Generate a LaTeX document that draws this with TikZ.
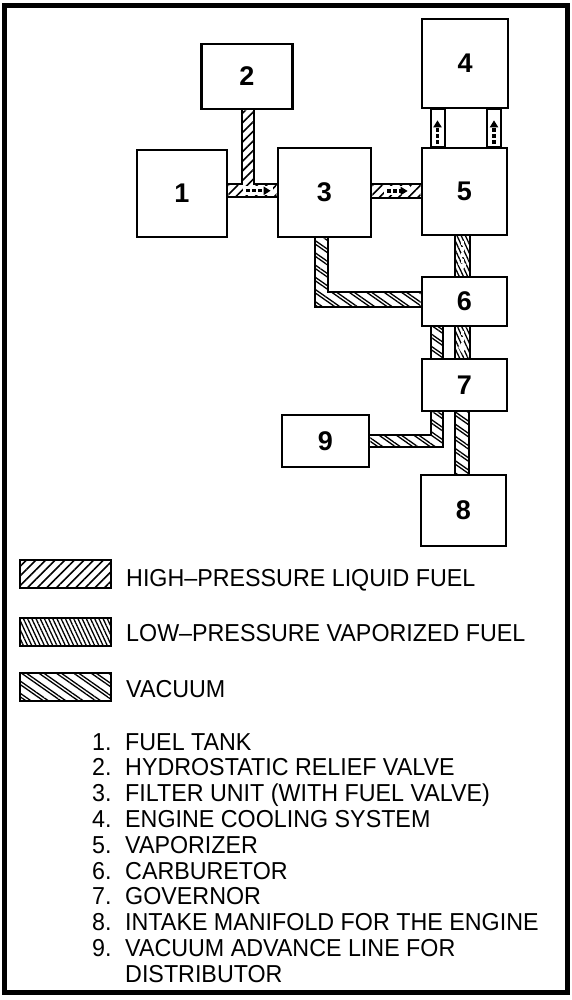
\documentclass[tikz,border=0pt]{standalone}
\usepackage{fontspec}
\newfontfamily\figfont{Liberation Sans}
\usetikzlibrary{calc}
\usetikzlibrary{patterns.meta}
\usetikzlibrary{arrows.meta}

\tikzset{
  unit/.style={draw, line width=2.6pt, fill=white, inner sep=0pt,
    font=\figfont\bfseries\fontsize{27}{27}\selectfont},
  pipeline/.style={line width=2pt},
  hpfuel/.style={pattern={Lines[angle=45,distance=6.8pt,line width=1.6pt]}},
  lpfuel/.style={pattern={Lines[angle=-65,distance=3.8pt,line width=1.3pt]}},
  vacline/.style={preaction={pattern={Lines[angle=-35,distance=10pt,line width=1.3pt]}},
    pattern={Lines[angle=-35,distance=10pt,yshift=3.5pt,line width=1.3pt]}},
  flow/.style={line width=3.5pt, dash pattern=on 3.5pt off 2.5pt, -{Triangle[width=8pt,length=7pt]}},
  halo/.style={draw=white, line width=9pt},
  swatch/.style={draw, line width=2pt, minimum width=91pt, minimum height=28pt, inner sep=0pt},
  keytext/.style={anchor=base west, inner sep=0pt, font=\figfont\fontsize{24.5}{26}\selectfont},
}
\newcommand{\keyline}[1]{\scalebox{0.95}[1]{#1}}

\begin{document}
\begin{tikzpicture}[x=1pt,y=-1pt]
  \useasboundingbox (0,0) rectangle (572,1000);
  \draw[line width=5pt] (4.7,5.5) rectangle (567.6,992.5);

  %% units
  \node[unit, minimum width=90pt, minimum height=87pt] (b1) at (182,193.5) {1};
  \node[unit, minimum width=90.5pt, minimum height=65pt] (b2) at (247,76.5) {2};
  \node[unit, minimum width=93pt, minimum height=89pt] (b3) at (324.5,192.5) {3};
  \node[unit, minimum width=86pt, minimum height=89pt] (b4) at (465,63.5) {4};
  \node[unit, minimum width=85pt, minimum height=87pt] (b5) at (464.5,191.5) {5};
  \node[unit, minimum width=85pt, minimum height=49pt] (b6) at (464.5,301.5) {6};
  \node[unit, minimum width=85pt, minimum height=52pt] (b7) at (464.5,385) {7};
  \node[unit, minimum width=85pt, minimum height=71pt] (b8) at (463.5,510.5) {8};
  \node[unit, minimum width=87pt, minimum height=52pt] (b9) at (325.5,441) {9};

  %% high-pressure liquid: 1 -> 3 with 2 on top, 3 -> 5
  \fill[hpfuel] ($(b1.east)+(0,-9.5)$) -| ($(b2.south)+(-5,0)$) -| ($(b2.south)+(6.5,0)$)
    |- ($(b3.west)+(0,-8.5)$) |- ($(b1.east)+(0,4)$) -- cycle;
  \draw[halo] ($(b1.east)+(15,-2.75)$) -- ($(b3.west)+(-4,-1.75)$);
  \draw[flow] ($(b1.east)+(18,-2.75)$) -- ($(b3.west)+(-6,-1.75)$);
  \draw[pipeline] ($(b1.east)+(0,-9.5)$) -| ($(b2.south)+(-5,0)$)
    ($(b2.south)+(6.5,0)$) |- ($(b3.west)+(0,-8.5)$)
    ($(b1.east)+(0,4)$) -- ($(b3.west)+(0,5)$);

  \fill[hpfuel] ($(b3.east)+(0,-8.5)$) rectangle ($(b5.west)+(0,6.5)$);
  \draw[halo] ($(b3.east)+(12,-1.5)$) -- ($(b5.west)+(-11,-0.5)$);
  \draw[flow] ($(b3.east)+(15,-1.5)$) -- ($(b5.west)+(-13,-0.5)$);
  \draw[pipeline] ($(b3.east)+(0,-8.5)$) -- ($(b5.west)+(0,-7.5)$)
    ($(b3.east)+(0,5.5)$) -- ($(b5.west)+(0,6.5)$);

  %% 5 <-> 4 cooling
  \draw[pipeline] ($(b5.north)+(-34,0)$) rectangle ($(b4.south)+(-20,0)$);
  \draw[pipeline] ($(b5.north)+(22.8,0)$) rectangle ($(b4.south)+(35.7,0)$);
  \draw[flow] ($(b5.north)+(-27,-3)$) -- ($(b4.south)+(-27.5,11)$);
  \draw[flow] ($(b5.north)+(29.5,-3)$) -- ($(b4.south)+(29,11)$);

  %% low-pressure vapor: 5 -> 6 -> 7
  \fill[lpfuel] ($(b5.south)+(-9.5,0)$) rectangle ($(b6.north)+(5,0)$);
  \draw[flow, white] ($(b5.south)+(-2.25,5)$) -- ($(b6.north)+(-2.25,-5)$);
  \draw[pipeline] ($(b5.south)+(-9.5,0)$) -- ($(b6.north)+(-9.5,0)$)
    ($(b5.south)+(5,0)$) -- ($(b6.north)+(5,0)$);

  \fill[lpfuel] ($(b6.south)+(-9.5,0)$) rectangle ($(b7.north)+(5,0)$);
  \draw[flow, white] ($(b6.south)+(-2.25,4)$) -- ($(b7.north)+(-2.25,-4)$);
  \draw[pipeline] ($(b6.south)+(-9.5,0)$) -- ($(b7.north)+(-9.5,0)$)
    ($(b6.south)+(5,0)$) -- ($(b7.north)+(5,0)$);

  %% vacuum: 3 -> 6, 6 -> 7, 7 -> 9, 7 -> 8
  \fill[vacline] ($(b3.south)+(-9.5,0)$) |- ($(b6.west)+(0,5.8)$) -- ($(b6.west)+(0,-9.8)$)
    -| ($(b3.south)+(3.8,0)$) -- cycle;
  \draw[pipeline] ($(b3.south)+(-9.5,0)$) |- ($(b6.west)+(0,5.8)$)
    ($(b3.south)+(3.8,0)$) |- ($(b6.west)+(0,-9.8)$);

  \fill[vacline] ($(b6.south)+(-33.5,0)$) rectangle ($(b7.north)+(-21.2,0)$);
  \draw[pipeline] ($(b6.south)+(-33.5,0)$) -- ($(b7.north)+(-33.5,0)$)
    ($(b6.south)+(-21.2,0)$) -- ($(b7.north)+(-21.2,0)$);

  \fill[vacline] ($(b7.south)+(-33.5,0)$) |- ($(b9.east)+(0,-6)$) -- ($(b9.east)+(0,5.7)$)
    -| ($(b7.south)+(-21.2,0)$) -- cycle;
  \draw[pipeline] ($(b7.south)+(-33.5,0)$) |- ($(b9.east)+(0,-6)$)
    ($(b7.south)+(-21.2,0)$) |- ($(b9.east)+(0,5.7)$);

  \fill[vacline] ($(b7.south)+(-9.5,0)$) rectangle ($(b8.north)+(5.5,0)$);
  \draw[pipeline] ($(b7.south)+(-9.5,0)$) -- ($(b8.north)+(-8.5,0)$)
    ($(b7.south)+(4.5,0)$) -- ($(b8.north)+(5.5,0)$);

  %% key
  \node[swatch, hpfuel] (khp) at (65,573.5) {};
  \node[keytext] (thp) at (126,586) {\keyline{HIGH–PRESSURE LIQUID FUEL}};
  \node[swatch, lpfuel] (klp) at (65,631.7) {};
  \node[keytext] (tlp) at (126,641.7) {\keyline{LOW–PRESSURE VAPORIZED FUEL}};
  \node[swatch, vacline] (kvac) at (65,687) {};
  \node[keytext] (tvac) at (126,697.7) {\keyline{VACUUM}};

  %% parts list
  \foreach \n/\txt [count=\i from 0] in {1/FUEL TANK, 2/HYDROSTATIC RELIEF VALVE,
      3/FILTER UNIT (WITH FUEL VALVE), 4/ENGINE COOLING SYSTEM, 5/VAPORIZER,
      6/CARBURETOR, 7/GOVERNOR, 8/INTAKE MANIFOLD FOR THE ENGINE,
      9/VACUUM ADVANCE LINE FOR} {
    \node[keytext] (n\n) at (92,750+25.8*\i) {\keyline{\n.}};
    \node[keytext] (t\n) at (125,750+25.8*\i) {\keyline{\txt}};
  }
  \node[keytext] (t9b) at (125,982.2) {\keyline{DISTRIBUTOR}};
\end{tikzpicture}
\end{document}
